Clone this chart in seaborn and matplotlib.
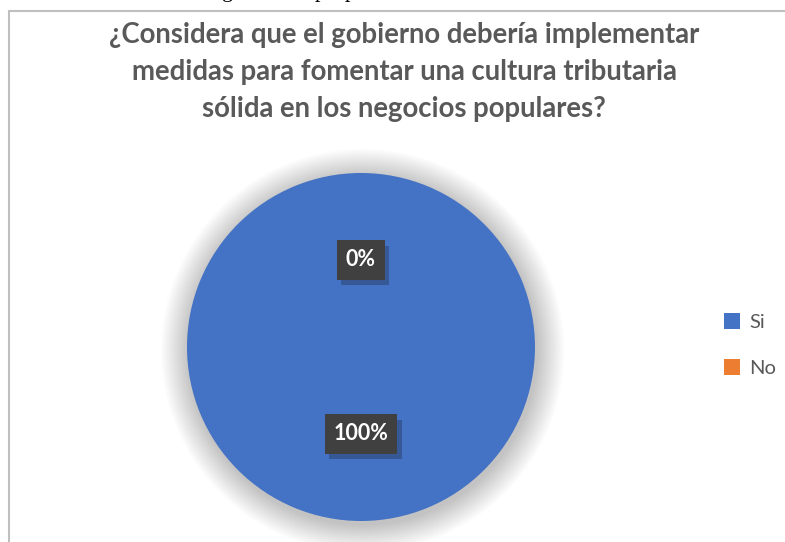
import matplotlib
matplotlib.use("Agg")
import matplotlib.pyplot as plt
import seaborn as sns
import numpy as np
from matplotlib.patches import Circle, Rectangle
import matplotlib.patheffects as pe

sns.set_theme(style="white")
plt.rcParams['font.family'] = ['Lato', 'DejaVu Sans']

categories = ["Si", "No"]
values = [100, 0]
pct_labels = ["100%", "0%"]
colors = ["#4472C4", "#ED7D31"]
title = ("¿Considera que el gobierno debería implementar\n"
         "medidas para fomentar una cultura tributaria\n"
         "sólida en los negocios populares?")

W, H = 785, 542
fig = plt.figure(figsize=(W / 100, H / 100), dpi=100)
fig.patch.set_facecolor("white")

# chart border (left and top visible)
fig.add_artist(plt.Line2D([8.5 / W, 8.5 / W], [0, 1 - 10.5 / H], transform=fig.transFigure,
                          color="#bfbfbf", lw=1.5))
fig.add_artist(plt.Line2D([8.5 / W, 1], [1 - 10.5 / H, 1 - 10.5 / H], transform=fig.transFigure,
                          color="#bfbfbf", lw=1.5))

# cropped document text descenders at the very top
for x, s in [(222, "g"), (315, "p"), (345, "p")]:
    fig.text(x / W, 1 + 3 / H, s, family="Liberation Serif", fontsize=16, color="black",
             ha="left", va="baseline")

# title
fig.text(404 / W, 1 - 72 / H, title, ha="center", va="center", fontsize=19.8,
         fontweight="bold", color="#595959", linespacing=1.5)

cx, cy, r = 361, 347, 174
ax = fig.add_axes([(cx - r) / W, (H - cy - r) / H, 2 * r / W, 2 * r / H])

# soft shadow
n = 30
for i in range(n):
    rr = 1.0 + 0.16 * (n - i) / n
    ax.add_patch(Circle((0.01, -0.02), rr, facecolor="black", edgecolor="none",
                        alpha=0.0065, clip_on=False, zorder=0))

wedges, texts = ax.pie(values, colors=colors, startangle=90, counterclock=False,
                       radius=1.0, wedgeprops=dict(linewidth=0))
for w in wedges:
    w.set_zorder(2)
ax.set_xlim(-1, 1)
ax.set_ylim(-1, 1)
ax.set_aspect("equal")
ax.axis("off")

# percentage labels
total = sum(values)
start = 90
for v, lab in zip(values, pct_labels):
    ang = np.deg2rad(start - 360 * v / total / 2)
    start -= 360 * v / total
    x, y = 0.5 * np.cos(ang), 0.5 * np.sin(ang)
    t = ax.text(x, y, lab, ha="center", va="center", fontsize=15.5, fontweight="bold",
                color="white", zorder=4,
                bbox=dict(boxstyle="square,pad=0.42", facecolor="#404040", edgecolor="none"))
    t.get_bbox_patch().set_path_effects([
        pe.SimplePatchShadow(offset=(3, -4), shadow_rgbFace="#1f2a44", alpha=0.35),
        pe.Normal()])

# legend
handles = [Rectangle((0, 0), 1, 1, facecolor=c, edgecolor="none") for c in colors]
leg = fig.legend(handles, categories, loc="center left",
                 bbox_to_anchor=(706 / W, 1 - 345 / H), frameon=False,
                 handlelength=0.8, handleheight=0.8, handletextpad=0.45,
                 labelspacing=1.4, fontsize=14.5)
for t in leg.get_texts():
    t.set_color("#595959")

fig.savefig("out.png", dpi=100, facecolor="white")
